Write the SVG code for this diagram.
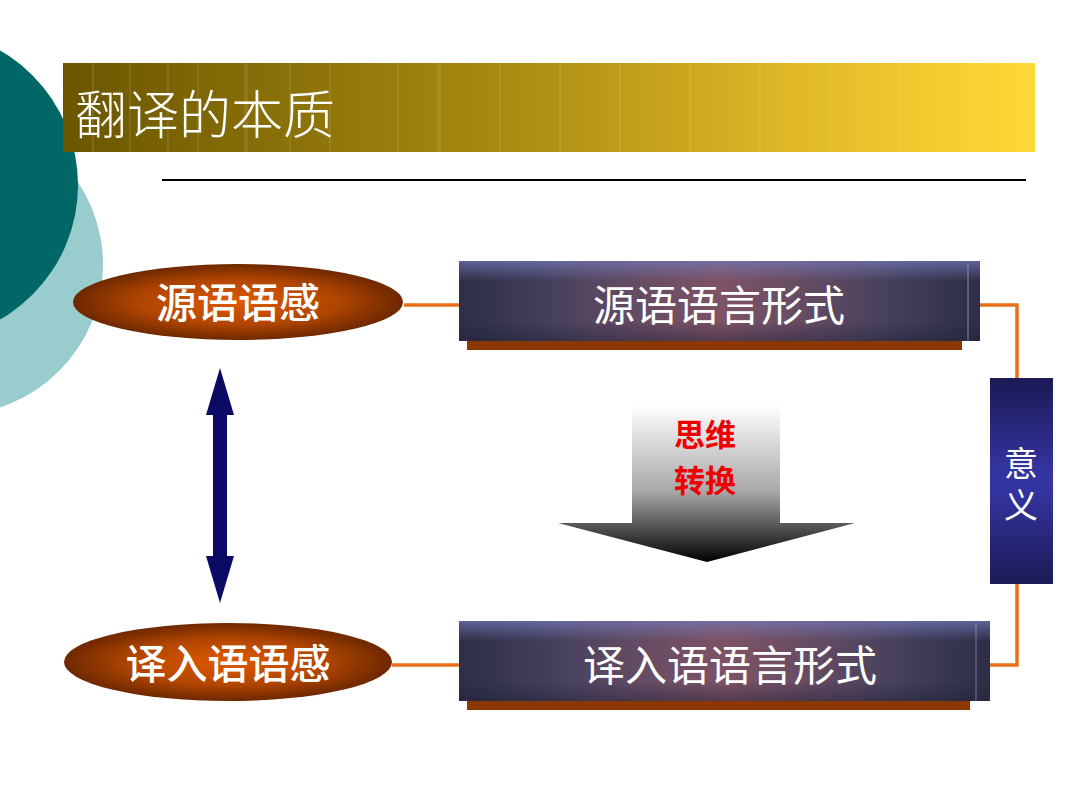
<svg xmlns="http://www.w3.org/2000/svg" width="1080" height="810" viewBox="0 0 1080 810">
<defs>
<linearGradient id="titleG" x1="0" y1="0" x2="1" y2="0">
<stop offset="0" stop-color="#6b5600"/>
<stop offset="0.45" stop-color="#a88a10"/>
<stop offset="0.75" stop-color="#e0b828"/>
<stop offset="1" stop-color="#ffd935"/>
</linearGradient>
<radialGradient id="ellG" cx="0.5" cy="0.5" r="0.5">
<stop offset="0" stop-color="#e05a00"/>
<stop offset="0.6" stop-color="#b04500"/>
<stop offset="1" stop-color="#6e2800"/>
</radialGradient>
<linearGradient id="boxH" x1="0" y1="0" x2="1" y2="0">
<stop offset="0" stop-color="#2e2e48"/>
<stop offset="0.2" stop-color="#46425f"/>
<stop offset="0.5" stop-color="#6a5470"/>
<stop offset="0.8" stop-color="#46425f"/>
<stop offset="1" stop-color="#2e2e48"/>
</linearGradient>
<linearGradient id="boxV" x1="0" y1="0" x2="0" y2="1">
<stop offset="0" stop-color="#7478b8" stop-opacity="0.7"/>
<stop offset="0.25" stop-color="#7478b8" stop-opacity="0"/>
<stop offset="0.75" stop-color="#1e1e38" stop-opacity="0"/>
<stop offset="1" stop-color="#1e1e38" stop-opacity="0.45"/>
</linearGradient>
<linearGradient id="redStripe" x1="0" y1="0" x2="1" y2="0">
<stop offset="0" stop-color="#a05050" stop-opacity="0"/>
<stop offset="0.5" stop-color="#a05050" stop-opacity="0.35"/>
<stop offset="1" stop-color="#a05050" stop-opacity="0"/>
</linearGradient>
<linearGradient id="meanG" x1="0" y1="0" x2="0" y2="1">
<stop offset="0" stop-color="#1a1a55"/>
<stop offset="0.45" stop-color="#3434a0"/>
<stop offset="0.55" stop-color="#3434a0"/>
<stop offset="1" stop-color="#1a1a55"/>
</linearGradient>
<linearGradient id="arrowG" x1="0" y1="0" x2="0" y2="1">
<stop offset="0" stop-color="#ffffff"/>
<stop offset="0.55" stop-color="#a8a8a8"/>
<stop offset="1" stop-color="#000000"/>
</linearGradient>
<style>
.cjk{font-family:"Noto Sans CJK SC","Noto Sans CJK JP",sans-serif;}
.ell{font-size:41px;fill:#ffffff;font-weight:500;text-anchor:middle;}
.box{font-size:42px;fill:#ffffff;text-anchor:middle;}
.red{font-size:31px;fill:#ee0000;font-weight:bold;text-anchor:middle;}
.conn{fill:none;stroke:#e8701a;stroke-width:3.5;}
.shadow{fill:#8a3800;}
.stripe{stroke:#ffffff;stroke-opacity:0.18;stroke-width:1;}
</style>
</defs>
<rect width="1080" height="810" fill="#ffffff"/>
<g id="background">
<circle cx="-47" cy="265" r="150" fill="#99cccc"/>
<circle cx="-77" cy="185" r="155" fill="#006666"/>
</g>
<g id="title">
<rect x="63" y="63" width="972" height="89" fill="url(#titleG)"/>
<g class="stripe">
<line x1="93" y1="63" x2="93" y2="152"/><line x1="130" y1="63" x2="130" y2="152"/>
<line x1="168" y1="63" x2="168" y2="152"/><line x1="198" y1="63" x2="198" y2="152"/>
<line x1="245" y1="63" x2="245" y2="152"/><line x1="247" y1="63" x2="247" y2="152"/>
<line x1="290" y1="63" x2="290" y2="152"/><line x1="330" y1="63" x2="330" y2="152"/>
<line x1="398" y1="63" x2="398" y2="152"/><line x1="438" y1="63" x2="438" y2="152"/>
<line x1="440" y1="63" x2="440" y2="152"/><line x1="500" y1="63" x2="500" y2="152"/>
<line x1="560" y1="63" x2="560" y2="152"/><line x1="620" y1="63" x2="620" y2="152"/>
<line x1="690" y1="63" x2="690" y2="152"/><line x1="760" y1="63" x2="760" y2="152"/>
<line x1="830" y1="63" x2="830" y2="152"/><line x1="900" y1="63" x2="900" y2="152"/>
<line x1="970" y1="63" x2="970" y2="152"/>
</g>
<text x="75" y="134" class="cjk" font-size="52" font-weight="300" fill="#ffffff">翻译的本质</text>
</g>
<line x1="162" y1="180" x2="1026" y2="180" stroke="#000000" stroke-width="2"/>
<g id="connectors">
<line class="conn" x1="404" y1="305" x2="459" y2="305"/>
<polyline class="conn" points="980,305 1017,305 1017,378"/>
<polyline class="conn" points="1017,584 1017,665 990,665"/>
<line class="conn" x1="392" y1="665" x2="459" y2="665"/>
</g>
<g id="node-source-sense">
<ellipse cx="238" cy="302" rx="165" ry="38" fill="url(#ellG)"/>
<text x="238" y="318" class="cjk ell">源语语感</text>
</g>
<g id="node-target-sense">
<ellipse cx="228" cy="662" rx="164" ry="39" fill="url(#ellG)"/>
<text x="228" y="679" class="cjk ell">译入语语感</text>
</g>
<g id="node-source-form">
<rect class="shadow" x="467" y="341" width="495" height="9"/>
<rect x="459" y="261" width="521" height="80" fill="url(#boxH)"/>
<rect x="540" y="261" width="360" height="80" fill="url(#redStripe)"/>
<rect x="459" y="261" width="521" height="80" fill="url(#boxV)"/>
<line x1="968" y1="263" x2="968" y2="341" stroke="#c0c0e0" stroke-opacity="0.6"/>
<text x="719" y="321" class="cjk box">源语语言形式</text>
</g>
<g id="node-target-form">
<rect class="shadow" x="467" y="701" width="503" height="9"/>
<rect x="459" y="621" width="531" height="80" fill="url(#boxH)"/>
<rect x="545" y="621" width="370" height="80" fill="url(#redStripe)"/>
<rect x="459" y="621" width="531" height="80" fill="url(#boxV)"/>
<line x1="976" y1="623" x2="976" y2="701" stroke="#c0c0e0" stroke-opacity="0.5"/>
<text x="730" y="681" class="cjk box">译入语语言形式</text>
</g>
<g id="node-meaning">
<rect x="990" y="378" width="63" height="206" fill="url(#meanG)"/>
<text x="1021" y="446" class="cjk" font-size="34" fill="#ffffff" writing-mode="tb" letter-spacing="8">意义</text>
</g>
<g id="node-thinking-arrow">
<path d="M632,405 H780 V523 H855 L707,562 L558,523 H632 Z" fill="url(#arrowG)"/>
<text x="705" y="446" class="cjk red">思维</text>
<text x="705" y="492" class="cjk red">转换</text>
</g>
<g id="double-arrow">
<path d="M220,368 L234,415 H227 V556 H234 L220,603 L206,556 H213 V415 H206 Z" fill="#0b0b66"/>
</g>
</svg>
